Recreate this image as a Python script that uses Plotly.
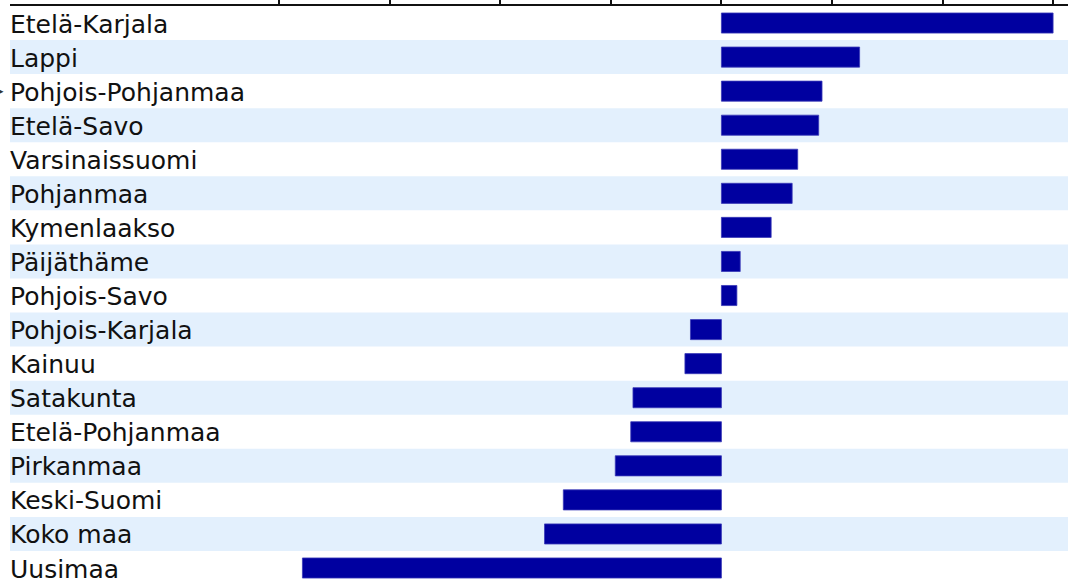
import plotly.graph_objects as go

regions = ["Etelä-Karjala", "Lappi", "Pohjois-Pohjanmaa", "Etelä-Savo", "Varsinaissuomi",
           "Pohjanmaa", "Kymenlaakso", "Päijäthäme", "Pohjois-Savo", "Pohjois-Karjala",
           "Kainuu", "Satakunta", "Etelä-Pohjanmaa", "Pirkanmaa", "Keski-Suomi",
           "Koko maa", "Uusimaa"]
values = [3.0, 1.25, 0.91, 0.88, 0.69, 0.64, 0.45, 0.17, 0.14, -0.28,
          -0.33, -0.80, -0.82, -0.96, -1.43, -1.60, -3.79]
tick_values = [-4, -3, -2, -1, 0, 1, 2, 3]

fig = go.Figure()
fig.add_trace(go.Bar(
    x=values, y=regions, orientation="h",
    marker=dict(color="#0000a0", line=dict(color="#3a3ab8", width=0.8)),
    width=0.59, hoverinfo="x+y",
))

shapes = []
for i, r in enumerate(regions):
    if i % 2 == 1:
        shapes.append(dict(type="rect", xref="paper", yref="y", x0=0, x1=1,
                           y0=i - 0.5, y1=i + 0.5, fillcolor="#e3f0fd",
                           line=dict(width=0), layer="below"))

annotations = []
for r in regions:
    annotations.append(dict(x=0, xref="paper", y=r, yref="y", text=r,
                            showarrow=False, xanchor="left", xshift=-2, yshift=-1,
                            font=dict(family="DejaVu Sans", size=25, color="#111111")))
annotations.append(dict(x=0, xref="paper", y=regions[2], yref="y", text="▸",
                        showarrow=False, xanchor="right", xshift=-4,
                        font=dict(family="DejaVu Sans", size=9, color="#333333")))

fig.update_layout(
    width=1068, height=583,
    margin=dict(l=10, r=0, t=6, b=0, autoexpand=False),
    plot_bgcolor="white", paper_bgcolor="white",
    showlegend=False, bargap=0.4,
    shapes=shapes, annotations=annotations,
    xaxis=dict(side="top", range=[-6.435, 3.135], tickvals=tick_values,
               showticklabels=False, ticks="outside", ticklen=10, tickwidth=1.5,
               tickcolor="#111111", showline=True, linecolor="#111111", linewidth=2,
               showgrid=False, zeroline=False, fixedrange=True, automargin=False),
    yaxis=dict(categoryorder="array", categoryarray=regions, autorange=False,
               range=[16.44, -0.5], showticklabels=False, showgrid=False,
               zeroline=False, showline=False, fixedrange=True, automargin=False),
)

fig.write_html("out.html", config={"displayModeBar": False},
               post_script="document.body.style.margin='0';")
